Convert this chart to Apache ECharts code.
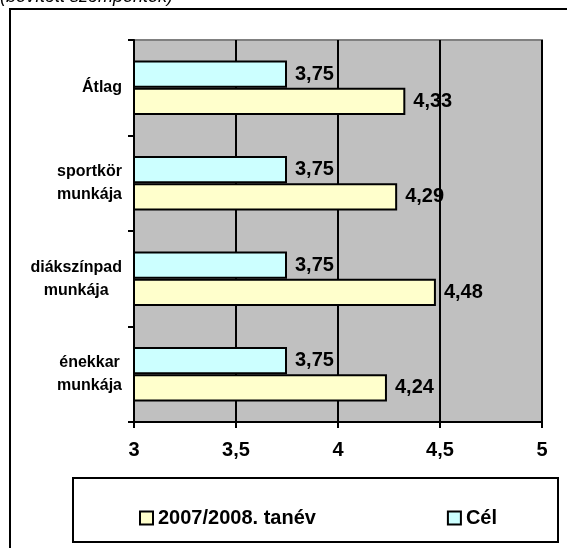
<!DOCTYPE html>
<html>
<head>
<meta charset="utf-8">
<script src="https://cdn.jsdelivr.net/npm/echarts@6/dist/echarts.min.js"></script>
<style>html,body{margin:0;padding:0;background:#fff;}#c{width:567px;height:548px;}</style>
</head>
<body>
<div id="c"></div>
<script>
const categories = ['Átlag', 'sportkör\nmunkája', 'diákszínpad\nmunkája', 'énekkar\nmunkája'];
const seriesNames = ['2007/2008. tanév', 'Cél'];
const valuesTanev = [4.33, 4.29, 4.48, 4.24];
const valuesCel = [3.75, 3.75, 3.75, 3.75];
const xTicks = [3, 3.5, 4, 4.5, 5];

const FONT = '"Liberation Sans", Arial, sans-serif';
const chart = echarts.init(document.getElementById('c'), null, {renderer: 'canvas'});
const fmt = v => String(v).replace('.', ',');
const labelStyle = {
  show: true, position: 'right', distance: 8,
  fontFamily: FONT, fontWeight: 'bold', fontSize: 20, color: '#000',
  formatter: p => fmt(p.value.toFixed(2))
};
chart.setOption({
  backgroundColor: '#fff',
  animation: false,
  graphic: [
    {type: 'rect', shape: {x: 10, y: 9, width: 620, height: 620}, style: {fill: 'none', stroke: '#000', lineWidth: 2}, z: 0},
    {type: 'rect', shape: {x: 73, y: 478, width: 485, height: 64}, style: {fill: '#fff', stroke: '#000', lineWidth: 2}, z: 0},
    {type: 'text', x: 0, y: -3, style: {text: '(bővített szempontok)', font: 'italic 18px ' + FONT, fill: '#000', verticalAlign: 'middle'}}
  ],
  legend: {
    data: seriesNames,
    left: 134, top: 503,
    itemWidth: 13, itemHeight: 13, itemGap: 131,
    icon: 'rect',
    textStyle: {fontFamily: FONT, fontWeight: 'bold', fontSize: 20, color: '#000'},
    itemStyle: {borderColor: '#000', borderWidth: 2}
  },
  grid: {
    left: 134, right: 25, top: 40, bottom: 126,
    show: true, backgroundColor: '#C0C0C0', borderColor: '#808080', borderWidth: 2,
    containLabel: false
  },
  xAxis: {
    type: 'value', min: xTicks[0], max: xTicks[xTicks.length - 1], interval: 0.5,
    axisLine: {show: true, lineStyle: {color: '#000', width: 2}},
    axisTick: {show: true, length: 6, lineStyle: {color: '#000', width: 2}},
    splitLine: {show: true, lineStyle: {color: '#000', width: 2}},
    axisLabel: {margin: 18, fontFamily: FONT, fontWeight: 'bold', fontSize: 20, color: '#000',
      formatter: v => fmt(v)}
  },
  yAxis: {
    type: 'category', data: categories, inverse: true,
    axisLine: {show: true, lineStyle: {color: '#000', width: 2}},
    axisTick: {show: true, length: 6, lineStyle: {color: '#000', width: 2}},
    axisLabel: {
      margin: 12, color: '#000',
      formatter: v => v.split('\n').map(s => '{c|' + s + '}').join('\n'),
      rich: {c: {align: 'center', fontFamily: FONT, fontWeight: 'bold', fontSize: 16, lineHeight: 23, color: '#000'}}
    }
  },
  series: [
    {name: 'Cél', type: 'bar', data: valuesCel, barGap: '0%', barCategoryGap: '43%',
      itemStyle: {color: '#CCFFFF', borderColor: '#000', borderWidth: 2}, label: labelStyle},
    {name: '2007/2008. tanév', type: 'bar', data: valuesTanev, barGap: '0%', barCategoryGap: '43%',
      itemStyle: {color: '#FFFFCC', borderColor: '#000', borderWidth: 2}, label: labelStyle}
  ]
});
</script>
</body>
</html>
